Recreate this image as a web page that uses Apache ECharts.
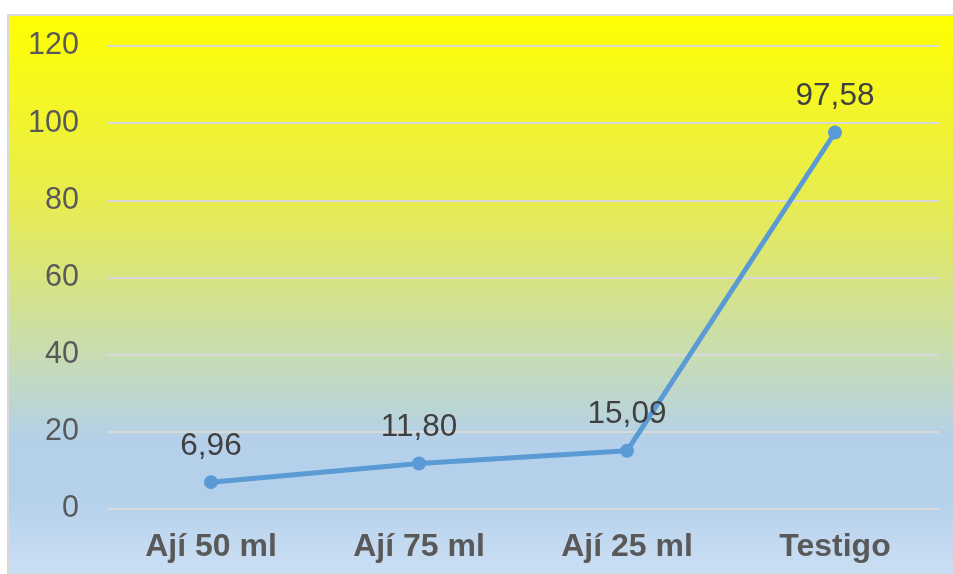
<!DOCTYPE html>
<html>
<head>
<meta charset="utf-8">
<script src="https://cdn.jsdelivr.net/npm/echarts@6/dist/echarts.min.js"></script>
<style>
html,body{margin:0;padding:0;background:#fff;}
#c{width:953px;height:574px;}
</style>
</head>
<body>
<div id="c"></div>
<script>
var categories = ['Ají 50 ml', 'Ají 75 ml', 'Ají 25 ml', 'Testigo'];
var values = [6.96, 11.80, 15.09, 97.58];
var yTicks = [0, 20, 40, 60, 80, 100, 120];

var chart = echarts.init(document.getElementById('c'));
chart.setOption({
  animation: false,
  graphic: [{
    type: 'rect',
    shape: {x: 8, y: 15, width: 1000, height: 600},
    style: {
      fill: new echarts.graphic.LinearGradient(0, 0, 0, 1, [
        {offset: 0, color: '#FFFF00'},
        {offset: 0.325, color: '#E6EB55'},
        {offset: 0.56, color: '#C8DDB0'},
        {offset: 0.71, color: '#B4D0EA'},
        {offset: 0.8, color: '#B4D0EB'},
        {offset: 0.93, color: '#CBDFF3'},
        {offset: 1, color: '#CBDFF3'}
      ]),
      stroke: '#D9D9D9',
      lineWidth: 2
    },
    z: -10
  }],
  grid: {left: 107, right: 14, top: 46, bottom: 65, containLabel: false},
  xAxis: {
    type: 'category',
    data: categories,
    boundaryGap: true,
    axisLine: {show: false},
    axisTick: {show: false},
    axisLabel: {
      color: '#595959', fontSize: 32, fontWeight: 'bold',
      fontFamily: 'Liberation Sans, Arial, sans-serif', margin: 22
    }
  },
  yAxis: {
    type: 'value',
    min: yTicks[0], max: yTicks[yTicks.length - 1], interval: 20,
    axisLine: {show: false},
    axisTick: {show: false},
    splitLine: {lineStyle: {color: '#D9D9D9', width: 2}},
    axisLabel: {
      color: '#595959', fontSize: 30.5,
      fontFamily: 'Liberation Sans, Arial, sans-serif', margin: 28
    }
  },
  series: [{
    type: 'line',
    data: values,
    symbol: 'circle',
    symbolSize: 14,
    lineStyle: {color: '#5B9BD5', width: 5},
    itemStyle: {color: '#5B9BD5'},
    label: {
      show: true, position: 'top', distance: 13,
      color: '#404040', fontSize: 31.5,
      fontFamily: 'Liberation Sans, Arial, sans-serif',
      formatter: function (p) { return p.value.toFixed(2).replace('.', ','); }
    }
  }]
});
</script>
</body>
</html>
